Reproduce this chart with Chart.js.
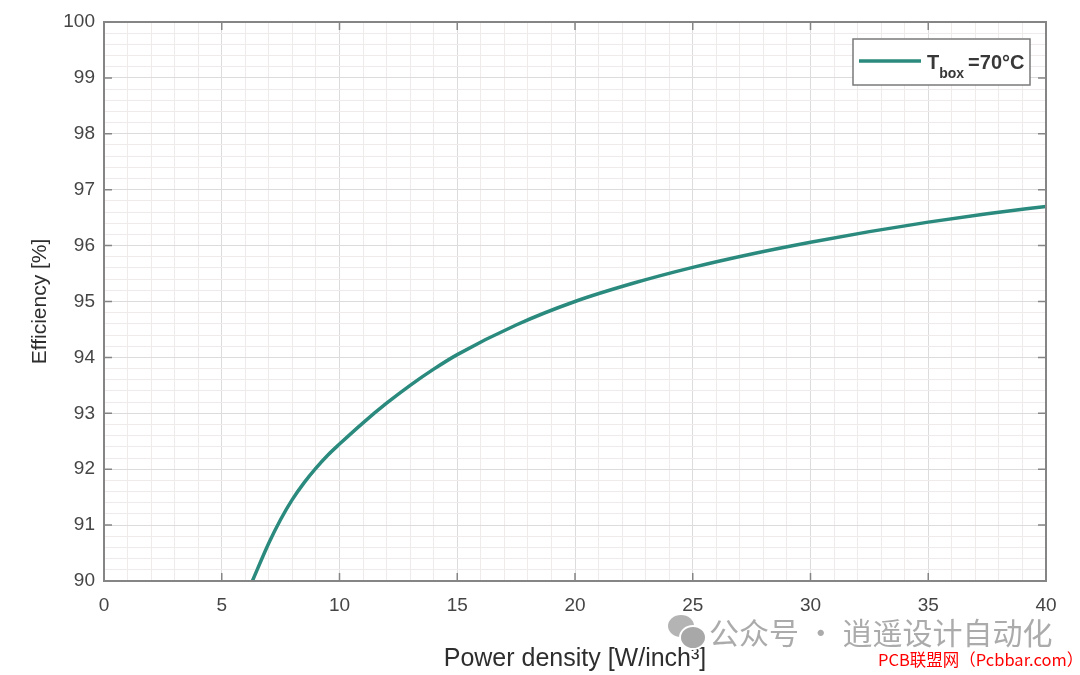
<!DOCTYPE html>
<html>
<head>
<meta charset="utf-8">
<script src="https://cdn.jsdelivr.net/npm/chart.js@4"></script>
<style>
  html, body { margin: 0; padding: 0; background: #fff; }
  #wrap { position: relative; width: 1080px; height: 675px; }
  .wm1 { position: absolute; left: 709px; top: 616px; font: 30px/1 "Noto Sans CJK SC", sans-serif; color: #ababab; white-space: nowrap; }
  .wm2 { position: absolute; left: 878px; top: 651px; font: 16.5px/1 "Noto Sans CJK SC", "DejaVu Sans Mono", monospace; color: #ff0000; white-space: nowrap; }
  .bub { position: absolute; border-radius: 50%; background: #b4b4b4; }
  .bub.small { background: #a8a8a8; border: 2px solid #fff; }
</style>
</head>
<body>
<div id="wrap">
  <canvas id="chart" width="1080" height="675"></canvas>
  <div class="bub" style="left:668px;top:615px;width:26px;height:22px;"></div>
  <div class="bub small" style="left:679px;top:625px;width:24px;height:21px;"></div>
  <div class="wm1">公众号 · 逍遥设计自动化</div>
  <div class="wm2">PCB联盟网（Pcbbar.com）</div>
</div>
<script>
// values
const powerDensity = [6.3, 7, 7.5, 8, 8.5, 9, 9.5, 10, 11, 12, 13, 14, 15, 17.5, 20, 22.5, 25, 27.5, 30, 32.5, 35, 37.5, 40];
const efficiency   = [90.0, 90.68, 91.1, 91.46, 91.76, 92.02, 92.25, 92.45, 92.83, 93.18, 93.5, 93.79, 94.05, 94.58, 95.0, 95.33, 95.61, 95.85, 96.06, 96.25, 96.42, 96.57, 96.7];
const xTicks = [0, 5, 10, 15, 20, 25, 30, 35, 40];
const yTicks = [90, 91, 92, 93, 94, 95, 96, 97, 98, 99, 100];
const seriesLabel = "T box =70°C";

const LINE = "#2b8a7e";
const AXIS = "#858585";
const FONT = "'Liberation Sans', Arial, sans-serif";

function isMajor(v, list){
  return list.some(t => Math.abs(t - v) < 1e-6);
}

// MATLAB style: box around the axes, ticks pointing inwards, custom legend
const boxPlugin = {
  id: "box",
  afterDraw(chart){
    const { ctx, chartArea: a, scales } = chart;
    ctx.save();
    ctx.strokeStyle = AXIS;
    ctx.lineWidth = 2;
    ctx.strokeRect(a.left, a.top, a.right - a.left, a.bottom - a.top);
    ctx.lineWidth = 1.5;
    ctx.beginPath();
    xTicks.forEach(t => {
      const px = scales.x.getPixelForValue(t);
      ctx.moveTo(px, a.bottom); ctx.lineTo(px, a.bottom - 8);
      ctx.moveTo(px, a.top); ctx.lineTo(px, a.top + 8);
    });
    yTicks.forEach(t => {
      const py = scales.y.getPixelForValue(t);
      ctx.moveTo(a.left, py); ctx.lineTo(a.left + 8, py);
      ctx.moveTo(a.right, py); ctx.lineTo(a.right - 8, py);
    });
    ctx.stroke();

    // legend
    const bx = 853, by = 39, bw = 177, bh = 46;
    ctx.fillStyle = "#fff";
    ctx.fillRect(bx, by, bw, bh);
    ctx.strokeStyle = "#7a7a7a";
    ctx.lineWidth = 1.5;
    ctx.strokeRect(bx, by, bw, bh);
    ctx.strokeStyle = LINE;
    ctx.lineWidth = 3.5;
    ctx.beginPath();
    ctx.moveTo(bx + 6, by + 22); ctx.lineTo(bx + 68, by + 22);
    ctx.stroke();
    ctx.fillStyle = "#383838";
    ctx.textBaseline = "alphabetic";
    ctx.font = "bold 20px " + FONT;
    let tx = bx + 74;
    ctx.fillText("T", tx, by + 30);
    tx += ctx.measureText("T").width;
    ctx.font = "bold 14px " + FONT;
    ctx.fillText("box", tx, by + 39);
    tx += ctx.measureText("box").width + 4;
    ctx.font = "bold 20px " + FONT;
    ctx.fillText("=70°C", tx, by + 30);
    ctx.restore();
  }
};

new Chart(document.getElementById("chart"), {
  type: "line",
  data: {
    datasets: [{
      label: seriesLabel,
      data: powerDensity.map((x, i) => ({ x: x, y: efficiency[i] })),
      borderColor: LINE,
      borderWidth: 3.5,
      pointRadius: 0,
      cubicInterpolationMode: "monotone",
      fill: false
    }]
  },
  options: {
    responsive: false,
    animation: false,
    layout: { padding: { left: 28, right: 34, top: 22, bottom: 0 } },
    plugins: { legend: { display: false }, tooltip: { enabled: false } },
    scales: {
      x: {
        type: "linear",
        min: 0, max: 40,
        afterFit(s){ s.height = 94; },
        ticks: {
          stepSize: 1,
          autoSkip: false,
          maxRotation: 0,
          padding: 13,
          color: "#454545",
          font: { family: FONT, size: 19 },
          callback: v => isMajor(v, xTicks) ? v : ""
        },
        grid: {
          drawTicks: false,
          color: c => isMajor(c.tick.value, xTicks) ? "#dcdcdc" : "#f0ebeb",
          lineWidth: 1
        },
        border: { color: AXIS, width: 2 },
        title: {
          display: true,
          text: "Power density [W/inch³]",
          color: "#2e2e2e",
          font: { family: FONT, size: 25 },
          padding: { top: 8, bottom: 1 }
        }
      },
      y: {
        min: 90, max: 100,
        afterFit(s){ s.width = 76; },
        ticks: {
          stepSize: 0.2,
          autoSkip: false,
          padding: 9,
          color: "#454545",
          font: { family: FONT, size: 19 },
          callback: v => isMajor(v, yTicks) ? Math.round(v) : ""
        },
        grid: {
          drawTicks: false,
          color: c => isMajor(c.tick.value, yTicks) ? "#dcdcdc" : "#f0ebeb",
          lineWidth: 1
        },
        border: { color: AXIS, width: 2 },
        title: {
          display: true,
          text: "Efficiency [%]",
          color: "#2e2e2e",
          font: { family: FONT, size: 21 },
          padding: { top: 0, bottom: 4 }
        }
      }
    }
  },
  plugins: [boxPlugin]
});
</script>
</body>
</html>
